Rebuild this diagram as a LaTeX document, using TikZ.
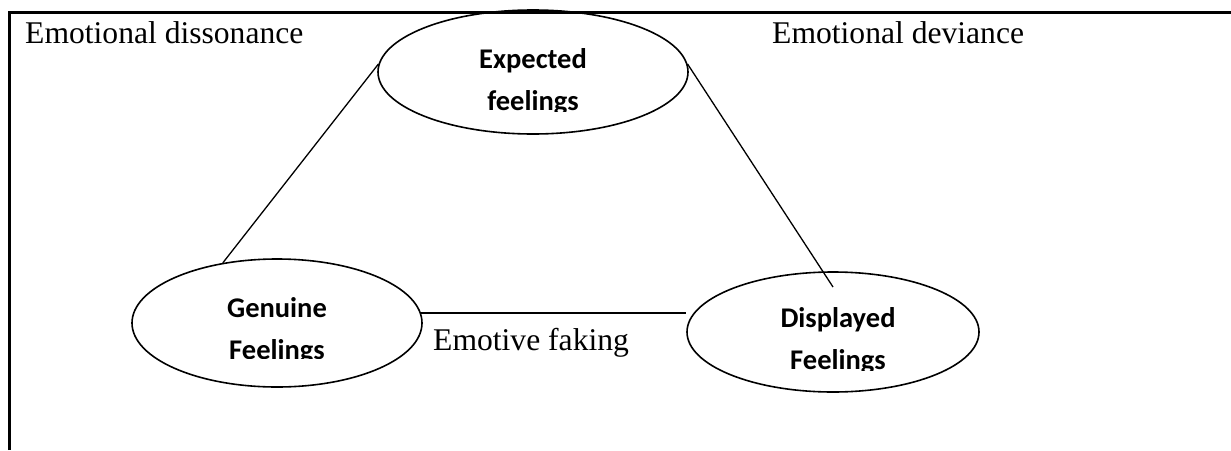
\documentclass[tikz,border=0pt]{standalone}
\usepackage{fontspec}
\setmainfont{Liberation Serif}
\newfontfamily\calib{Carlito}
\usetikzlibrary{shapes.geometric,calc}
\tikzset{
  oval/.style={draw, ellipse, line width=1.6pt, inner sep=0pt},
  ovaltext/.style={font=\calib\bfseries\fontsize{28.5}{34}\selectfont, anchor=base, inner sep=0pt},
  plain/.style={font=\fontsize{31.6}{37}\selectfont, anchor=base west, inner sep=0pt},
  link/.style={line width=1.3pt},
  frame/.style={line width=3pt}
}
\begin{document}
\begin{tikzpicture}[x=1pt,y=-1pt]
\useasboundingbox (0,0) rectangle (1231,450);
% frame
\coordinate (fbl) at (9,450);
\coordinate (ftl) at (9,12);
\coordinate (ftr) at (1231,12);
\draw[frame] (fbl) -- (ftl) -- (ftr);
% ellipses
\node[oval, minimum width=310pt, minimum height=124pt] (exp) at (533,72) {};
\node[oval, minimum width=290pt, minimum height=128pt] (gen) at (277,323) {};
\node[oval, minimum width=292pt, minimum height=120pt] (disp) at (833,332) {};
% texts in ellipses
\begin{scope}
\clip (380,20) rectangle (686,111);
\node[ovaltext] (expa) at (533,68) {Expected};
\node[ovaltext] (expb) at (533,110) {feelings};
\end{scope}
\begin{scope}
\clip (140,270) rectangle (420,358);
\node[ovaltext] (gena) at (277,317) {Genuine};
\node[ovaltext] (genb) at (277,359) {Feelings};
\end{scope}
\begin{scope}
\clip (700,280) rectangle (975,370);
\node[ovaltext] (dispa) at (838,327) {Displayed};
\node[ovaltext] (dispb) at (838,369) {Feelings};
\end{scope}
% connectors
\draw[link] (gen.132) -- (exp.177);
\coordinate (dispEnd) at (833,287);
\draw[link] (exp.3) -- (dispEnd);
\draw[link] (gen.4) -- (gen.4 -| disp.west);
% labels
\node[plain] (ld) at (25,43) {Emotional dissonance};
\node[plain] (lv) at (772,43) {Emotional deviance};
\node[plain] (lf) at (433,350) {Emotive faking};
\end{tikzpicture}
\end{document}
